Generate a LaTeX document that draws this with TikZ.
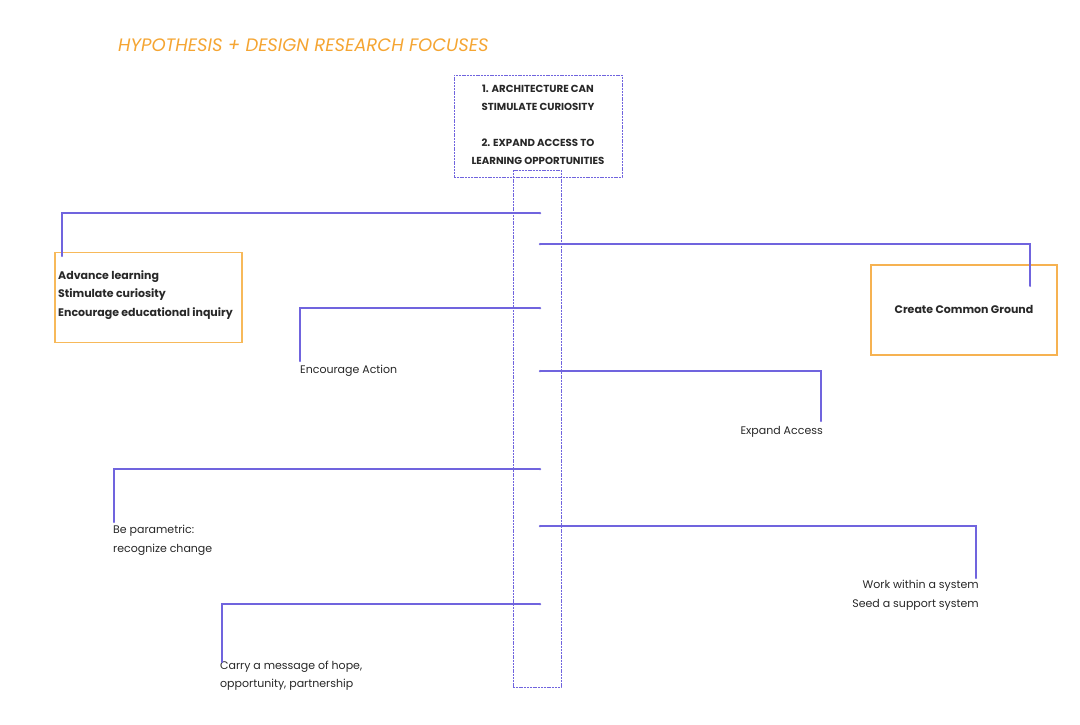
\documentclass[tikz,border=0pt]{standalone}
\usepackage{fontspec}
\setmainfont{Poppins}
\definecolor{linec}{RGB}{112,100,222}
\definecolor{boxo}{RGB}{247,185,90}
\definecolor{titleo}{RGB}{245,165,50}
\definecolor{txt}{RGB}{40,40,40}
\begin{document}
\begin{tikzpicture}[x=1pt,y=-1pt,
  conn/.style={draw=linec,line width=1.1pt},
  dotbox/.style={draw=linec,line width=0.8pt,dash pattern=on 2pt off 0.8pt},
  obox/.style={draw=boxo,line width=1.2pt},
  lbl/.style={text=txt,font=\fontsize{11}{18.5}\selectfont,inner sep=0pt,align=left},
  blbl/.style={lbl,font=\fontsize{11}{18.5}\selectfont\bfseries},
  startdot/.style={circle,fill=linec,inner sep=0pt,minimum size=2.5pt}]
\useasboundingbox (0,0) rectangle (1080,724);
\fill[white] (0,0) rectangle (1080,724);
% orange boxes
\coordinate (lb1) at (55,252.5);
\coordinate (lb2) at (242,342.5);
\coordinate (rb1) at (871,265);
\coordinate (rb2) at (1057,355);
\draw[obox] (lb1) rectangle (lb2);
\draw[obox,line width=1.4pt,draw=titleo!85!white] (rb1) rectangle (rb2);
% title
\node[anchor=west,text=titleo,font=\fontsize{18}{20}\selectfont\itshape,inner sep=0pt] (title) at (118,45) {HYPOTHESIS + DESIGN RESEARCH FOCUSES};
% top box
\node[dotbox,minimum width=168pt,minimum height=102pt,inner sep=0pt] (top) at (538,126) {};
\node[text=txt,font=\fontsize{10.2}{18}\selectfont\bfseries,align=center,inner sep=0pt] (toptext) at (538,125)
  {1. ARCHITECTURE CAN\\STIMULATE CURIOSITY\\[18pt]2. EXPAND ACCESS TO\\LEARNING OPPORTUNITIES};
% vertical spine
\node[dotbox,minimum width=48pt,minimum height=517pt,inner sep=0pt] (spine) at (537,428.5) {};
% labels
\node[blbl,anchor=north west] (l1) at (58,270) {Advance learning\\Stimulate curiosity\\Encourage educational inquiry};
\node[blbl,anchor=center] (cg) at (964,309) {Create Common Ground};
\node[lbl,anchor=west] (ea) at (300,371) {Encourage Action};
\node[lbl,anchor=east] (xa) at (823,432) {Expand Access};
\node[lbl,anchor=north west,font=\fontsize{11}{19}\selectfont] (bp) at (113,524.5) {Be parametric:\\recognize change};
\node[lbl,anchor=north east,align=right,font=\fontsize{11}{19}\selectfont] (ws) at (979,579.5) {Work within a system\\Seed a support system};
\node[lbl,anchor=north west,font=\fontsize{11}{18}\selectfont] (cm) at (220,660.5) {Carry a message of hope,\\opportunity, partnership};
% connector start points
\coordinate (s1) at (540,213);
\coordinate (s2) at (540,244);
\coordinate (s3) at (540,308);
\coordinate (s4) at (540,371);
\coordinate (s5) at (540,469);
\coordinate (s6) at (540,526);
\coordinate (s7) at (540,604);
\coordinate (e1) at (62,256);
\coordinate (e2) at (1030,286);
\coordinate (e3) at (300,361);
\coordinate (e4) at (821,421);
\coordinate (e5) at (114,522);
\coordinate (e6) at (976,578);
\coordinate (e7) at (222,662);
\foreach \i in {1,...,7}{
  \draw[conn] (s\i) -| (e\i);
  \node[startdot] at (s\i) {};
  \node[startdot,minimum size=2pt] at (e\i) {};
}
\end{tikzpicture}
\end{document}
